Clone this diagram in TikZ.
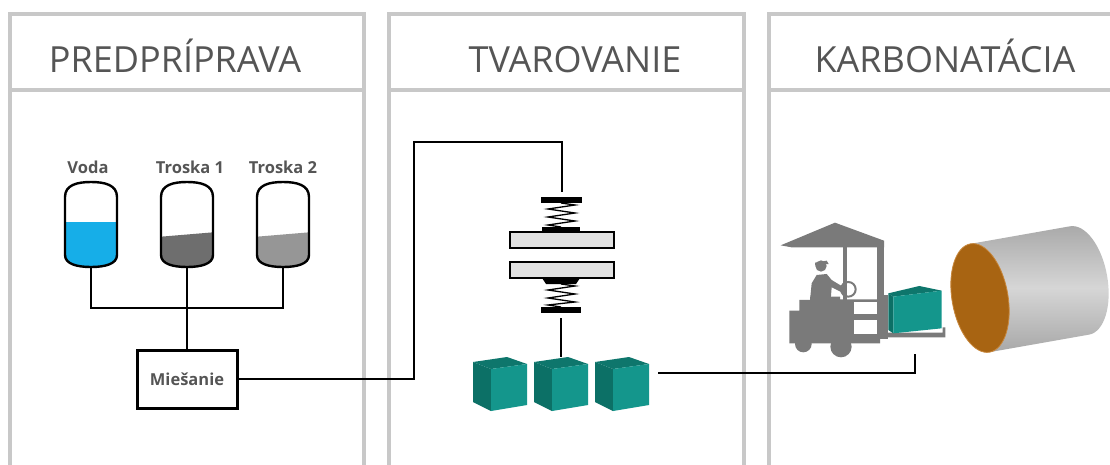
\documentclass[tikz,border=0pt]{standalone}
\usepackage{fontspec}
\setmainfont{Open Sans}
\definecolor{panelgray}{RGB}{200,200,200}
\definecolor{txtgray}{RGB}{85,85,85}
\definecolor{water}{RGB}{22,174,232}
\definecolor{slagdark}{RGB}{110,110,110}
\definecolor{slaglight}{RGB}{150,150,150}
\definecolor{plategray}{RGB}{225,225,225}
\definecolor{cubefront}{RGB}{20,150,140}
\definecolor{cubeleft}{RGB}{12,112,102}
\definecolor{cubetop}{RGB}{14,118,108}
\definecolor{liftgray}{RGB}{122,122,122}
\definecolor{cyllight}{RGB}{214,214,214}
\definecolor{cyldark}{RGB}{168,168,168}
\definecolor{cylend}{RGB}{168,100,18}
\definecolor{cylrim}{RGB}{200,135,60}

\tikzset{
  panel/.style={draw=panelgray, line width=4pt},
  head/.style={text=txtgray, font=\fontsize{36}{40}\selectfont, anchor=base, inner sep=0pt},
  lbl/.style={text=txtgray, font=\bfseries\fontsize{16.5}{20}\selectfont, anchor=base, inner sep=0pt},
  pipe/.style={draw=black, line width=2.6pt},
  wire/.style={draw=black, line width=1.6pt},
  mixbox/.style={draw=black, line width=3pt, minimum width=100pt, minimum height=58pt,
    inner sep=0pt, text=txtgray, font=\bfseries\fontsize{16.5}{20}\selectfont},
  tankline/.style={draw=black, line width=2.4pt},
  plate/.style={fill=plategray, draw=black, line width=2.6pt},
  coil/.style={draw=black, line width=1.3pt},
}

% storage vessel: centre x, fill colour, fill level at left and right
\newcommand\drawvessel[4]{%
  \begin{scope}[shift={(#1,0)}]
    \begin{scope}
      \clip (-26,197) .. controls (-26,185) and (-14,182) .. (0,182)
        .. controls (14,182) and (26,185) .. (26,197) -- (26,255)
        .. controls (26,264) and (14,267) .. (0,267)
        .. controls (-14,267) and (-26,264) .. (-26,255) -- cycle;
      \fill[#2] (-30,#3) -- (30,#4) -- (30,272) -- (-30,272) -- cycle;
    \end{scope}
    \draw[tankline] (-26,197) .. controls (-26,185) and (-14,182) .. (0,182)
      .. controls (14,182) and (26,185) .. (26,197) -- (26,255)
      .. controls (26,264) and (14,267) .. (0,267)
      .. controls (-14,267) and (-26,264) .. (-26,255) -- cycle;
  \end{scope}}

% moulded block seen from the front left
\newcommand\tealcube[2]{%
  \begin{scope}[shift={(#1,#2)}]
    \fill[cubeleft] (0,5) -- (18,12) -- (18,54) -- (0,45) -- cycle;
    \fill[cubetop] (0,5) -- (34,0) -- (54,7) -- (18,12) -- cycle;
    \fill[cubefront] (18,12) -- (54,7) -- (54,48) -- (18,54) -- cycle;
  \end{scope}}

\begin{document}
\begin{tikzpicture}[x=1pt, y=-1pt, line join=miter]
\useasboundingbox (0,0) rectangle (1110,464);
\clip (0,0) rectangle (1110,464);
\fill[white] (0,0) rectangle (1110,464);

% three stage panels
\draw[panel] (10,480) |- (364,14) -- (364,480);
\draw[panel] (10,90) -- (364,90);
\draw[panel] (389,480) |- (744,14) -- (744,480);
\draw[panel] (389,90) -- (744,90);
\draw[panel] (769,480) |- (1130,14);
\draw[panel] (769,90) -- (1130,90);

\node[head] (h1) at (175,72) {PREDPRÍPRAVA};
\node[head] (h2) at (575,72) {TVAROVANIE};
\node[head] (h3) at (945,72) {KARBONATÁCIA};

% raw material vessels
\node[lbl] (lvoda) at (88,173) {Voda};
\node[lbl] (ltr1) at (190,173) {Troska 1};
\node[lbl] (ltr2) at (283,173) {Troska 2};
\drawvessel{91}{water}{222}{222}
\drawvessel{187}{slagdark}{237}{232}
\drawvessel{283}{slaglight}{237}{232}
\coordinate (t1) at (91,267);
\coordinate (t2) at (187,267);
\coordinate (t3) at (283,267);
\coordinate (j) at (187,308);

\node[mixbox] (mix) at (187,379) {Miešanie};
\draw[pipe] (t1) |- (j) -| (t3);
\draw[pipe] (t2) -- (mix.north);

% press
\coordinate (c1) at (414,142);
\coordinate (pin) at (562,192);
\draw[wire] (mix.east) -| (c1) -| (pin);

\fill (541,197) rectangle (582,203);
\draw[coil] (561,203) -- (575,205) -- (548,209) -- (575,213) -- (548,217) -- (575,221) -- (548,225) -- (561,227);
\draw[plate] (510,232) rectangle (614,248);
\fill (542,227) rectangle (580,232);
\draw[plate] (510,262) rectangle (614,278);
\fill (542,278) -- (580,278) -- (576,284) -- (546,284) -- cycle;
\draw[coil] (561,284) -- (575,286) -- (548,290) -- (575,294) -- (548,298) -- (575,302) -- (548,305) -- (561,307);
\fill (541,307) rectangle (581,313);
\coordinate (ram) at (561,318);
\coordinate (cubetopc) at (561,357);
\draw[wire] (ram) -- (cubetopc);

% moulded blocks
\tealcube{473}{357}
\tealcube{534}{357}
\tealcube{595}{357}
\coordinate (c3e) at (658,373);
\coordinate (fk) at (915,354);
\draw[wire] (c3e) -| (fk);

% forklift carrying a block
\begin{scope}[shift={(760,200)}, x=0.3333pt, y=-0.3333pt]
  \fill[liftgray] (62,136) -- (225,68) -- (372,122) -- (372,142) -- (95,142) -- cycle;
  \fill[liftgray] (250,140) rectangle (262,300);
  \fill[liftgray] (350,122) rectangle (372,300);
  \fill[liftgray] (355,285) rectangle (385,418);
  \fill[liftgray] (88,430) -- (88,332) -- (118,332) -- (118,300) -- (150,300) -- (150,290)
    -- (240,290) -- (240,298) -- (360,298) -- (360,430) -- cycle;
  \fill[liftgray] (130,432) circle[radius=25];
  \fill[liftgray] (243,440) circle[radius=32];
  \fill[liftgray] (183,198) circle[radius=17];
  \fill[liftgray] (165,188) -- (200,182) -- (206,192) -- (165,196) -- cycle;
  \fill[liftgray] (150,300) -- (155,250) -- (170,225) -- (200,222) -- (215,240) -- (258,266)
    -- (252,280) -- (215,262) -- (212,300) -- cycle;
  \draw[liftgray, line width=2pt] (265,268) circle[radius=22];
  \fill[white] (282,305) rectangle (350,343);
  \fill[white] (282,360) rectangle (350,402);
  \fill[liftgray] (370,398) -- (548,398) -- (548,382) -- (556,382) -- (556,412) -- (370,412) -- cycle;
  \fill[cubeleft] (385,280) -- (400,290) -- (400,400) -- (385,390) -- cycle;
  \fill[cubetop] (385,280) -- (478,258) -- (545,272) -- (400,290) -- cycle;
  \fill[cubefront] (400,290) -- (545,272) -- (545,385) -- (400,400) -- cycle;
\end{scope}

% carbonation chamber
\begin{scope}[shift={(980,298)}, rotate=10]
  \shade[top color=cyldark, bottom color=cyldark, middle color=cyllight]
    (0,-55) -- (101,-55) arc[start angle=-90, end angle=90, x radius=28, y radius=55]
    -- (0,55) -- cycle;
  \filldraw[fill=cylend, draw=cylrim, line width=0.8pt] (0,0) ellipse[x radius=28, y radius=55];
\end{scope}
\end{tikzpicture}
\end{document}
